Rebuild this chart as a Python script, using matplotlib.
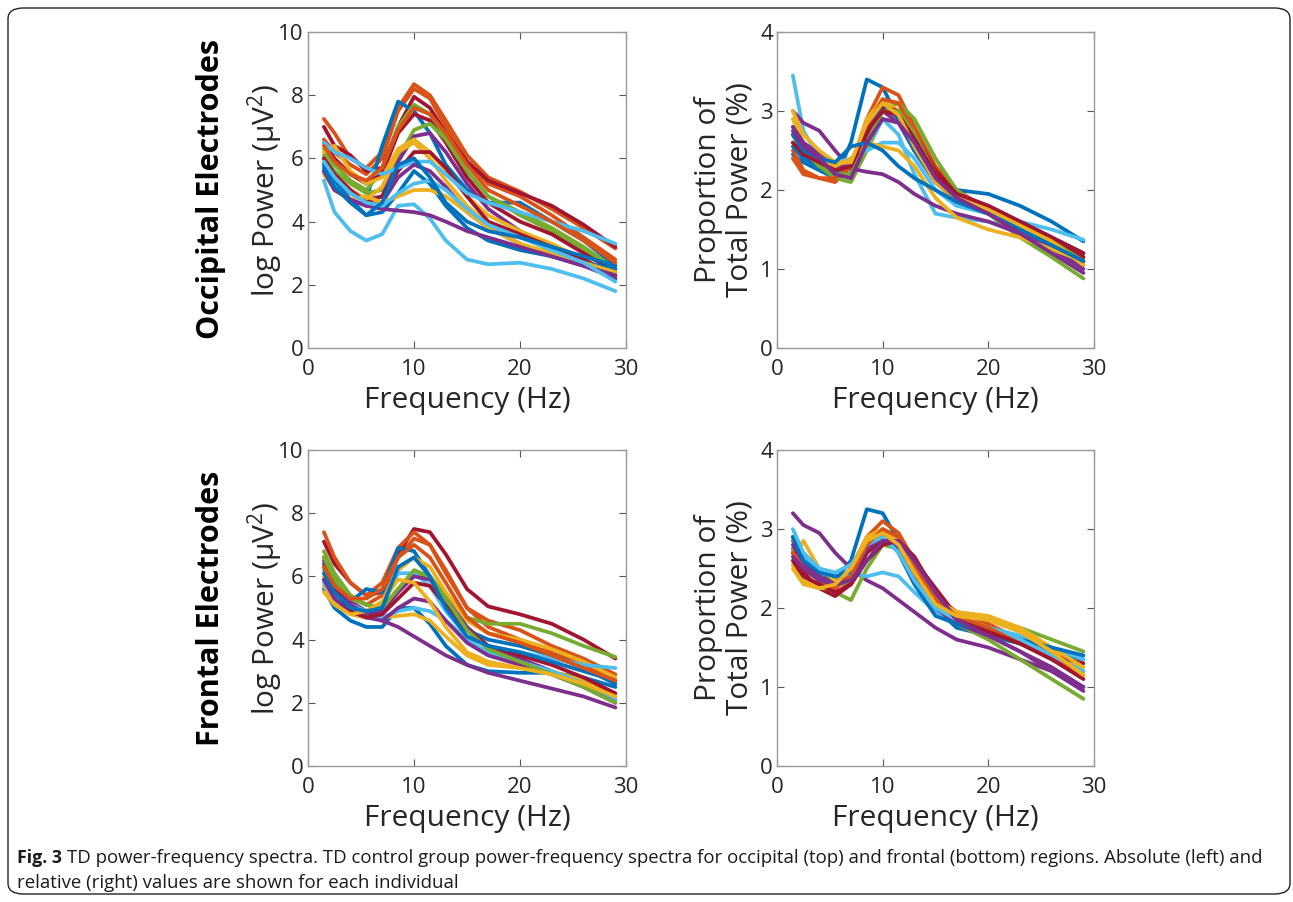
import matplotlib
matplotlib.use("Agg")
import matplotlib.pyplot as plt
from matplotlib.patches import FancyBboxPatch

plt.rcParams['font.family'] = ['Open Sans', 'DejaVu Sans']
plt.rcParams['mathtext.default'] = 'regular'

# MATLAB default colour order
C = ['#0072BD', '#D95319', '#EDB120', '#7E2F8E', '#77AC30', '#4DBEEE', '#A2142F']

freq = [1.5, 2.5, 4, 5.5, 7, 8.5, 10, 11.5, 13, 15, 17, 20, 23, 26, 29]

# occipital, absolute (log power)
occ_abs_col = [1, 1, 6, 0, 4, 6, 4, 3, 2, 2, 6, 5, 3, 0, 2, 5, 3, 5, 0, 1]
occ_abs = [
    [7.25, 6.8, 6.0, 5.7, 6.2, 7.6, 8.35, 8.0, 7.2, 6.1, 5.4, 4.95, 4.4, 3.8, 3.15],
    [6.6, 6.2, 5.8, 5.5, 6.0, 7.5, 8.2, 7.9, 7.0, 5.9, 5.2, 4.8, 4.2, 3.5, 2.8],
    [7.0, 6.4, 6.1, 5.6, 5.7, 7.0, 7.95, 7.6, 6.8, 5.9, 5.3, 4.9, 4.5, 3.9, 3.2],
    [6.0, 5.4, 4.9, 4.7, 6.4, 7.8, 7.5, 6.8, 5.8, 5.0, 4.6, 4.6, 4.0, 3.4, 2.6],
    [6.3, 5.8, 5.3, 5.0, 5.6, 7.0, 7.7, 7.4, 6.6, 5.6, 4.8, 4.2, 3.7, 3.1, 2.5],
    [6.5, 6.0, 5.5, 5.2, 5.5, 6.8, 7.4, 7.2, 6.5, 5.4, 4.6, 4.0, 3.6, 3.0, 2.4],
    [6.1, 5.6, 5.2, 4.9, 5.0, 6.0, 6.9, 7.1, 6.6, 5.6, 4.8, 4.3, 3.8, 3.2, 2.5],
    [5.8, 5.3, 5.0, 4.7, 4.8, 5.9, 6.7, 6.8, 6.2, 5.2, 4.4, 3.7, 3.2, 2.7, 2.2],
    [6.2, 6.4, 5.6, 5.2, 5.4, 6.3, 6.6, 6.2, 5.6, 4.8, 4.2, 3.7, 3.3, 2.8, 2.3],
    [5.9, 5.5, 5.0, 4.7, 5.1, 6.2, 6.5, 6.0, 5.3, 4.5, 3.9, 3.5, 3.1, 2.7, 2.3],
    [6.0, 5.5, 5.0, 4.6, 4.8, 5.6, 6.2, 6.2, 5.7, 4.8, 4.0, 3.6, 3.2, 2.8, 2.3],
    [6.5, 6.2, 6.0, 5.7, 5.5, 5.7, 5.9, 5.9, 5.5, 4.9, 4.6, 4.3, 4.0, 3.7, 3.3],
    [5.6, 5.0, 4.7, 4.5, 4.6, 5.4, 5.8, 5.6, 5.1, 4.3, 3.8, 3.3, 2.9, 2.6, 2.2],
    [5.8, 5.3, 4.7, 4.2, 4.3, 4.9, 5.6, 5.2, 4.5, 3.8, 3.4, 3.1, 2.9, 2.7, 2.5],
    [5.5, 5.0, 4.7, 4.8, 4.6, 4.8, 5.0, 5.0, 4.8, 4.3, 3.8, 3.3, 3.0, 2.7, 2.4],
    [5.3, 4.3, 3.7, 3.4, 3.6, 4.5, 4.55, 4.1, 3.4, 2.8, 2.65, 2.7, 2.5, 2.2, 1.8],
    [5.6, 5.0, 4.7, 4.5, 4.4, 4.35, 4.3, 4.2, 4.0, 3.7, 3.5, 3.2, 2.9, 2.6, 2.3],
    [5.9, 5.4, 4.9, 4.6, 4.5, 4.9, 5.2, 5.3, 5.0, 4.4, 3.9, 3.5, 3.1, 2.7, 2.1],
    [5.7, 5.1, 4.6, 4.2, 4.6, 5.8, 6.0, 5.4, 4.6, 4.0, 3.7, 3.5, 3.2, 2.9, 2.6],
    [6.4, 5.9, 5.5, 5.3, 5.7, 6.9, 7.6, 7.4, 6.8, 5.8, 5.0, 4.5, 4.0, 3.4, 2.7],
]

# occipital, relative (% of total power)
occ_rel_col = [0, 5, 1, 4, 3, 2, 5, 6, 3, 2, 0, 1, 4, 6, 2, 0, 3]
occ_rel = [
    [2.45, 2.35, 2.25, 2.15, 2.6, 3.4, 3.3, 2.9, 2.5, 2.15, 2.0, 1.95, 1.8, 1.6, 1.35],
    [3.45, 2.75, 2.4, 2.3, 2.25, 2.5, 2.9, 2.7, 2.2, 1.7, 1.65, 1.6, 1.5, 1.35, 1.15],
    [2.5, 2.25, 2.15, 2.1, 2.3, 2.9, 3.3, 3.2, 2.8, 2.3, 2.0, 1.75, 1.55, 1.35, 1.15],
    [2.6, 2.45, 2.3, 2.15, 2.1, 2.5, 3.0, 3.1, 2.9, 2.4, 2.0, 1.7, 1.4, 1.15, 0.88],
    [3.0, 2.85, 2.75, 2.5, 2.27, 2.23, 2.2, 2.1, 1.95, 1.8, 1.7, 1.6, 1.45, 1.25, 1.0],
    [2.9, 2.6, 2.4, 2.3, 2.3, 2.9, 3.15, 3.0, 2.6, 2.1, 1.85, 1.7, 1.55, 1.35, 1.1],
    [2.8, 2.55, 2.4, 2.35, 2.4, 2.5, 2.6, 2.6, 2.4, 2.0, 1.8, 1.7, 1.6, 1.5, 1.37],
    [2.7, 2.5, 2.35, 2.2, 2.2, 2.7, 3.05, 3.0, 2.7, 2.25, 1.95, 1.8, 1.6, 1.4, 1.15],
    [2.8, 2.6, 2.45, 2.3, 2.3, 2.8, 3.0, 2.85, 2.5, 2.1, 1.9, 1.7, 1.5, 1.3, 1.05],
    [2.6, 2.5, 2.4, 2.3, 2.4, 2.6, 2.55, 2.5, 2.3, 1.9, 1.65, 1.5, 1.4, 1.25, 1.1],
    [2.55, 2.4, 2.3, 2.2, 2.3, 2.8, 3.1, 2.9, 2.5, 2.1, 1.9, 1.75, 1.6, 1.4, 1.2],
    [2.4, 2.2, 2.15, 2.15, 2.3, 2.8, 3.15, 3.1, 2.7, 2.2, 1.9, 1.75, 1.55, 1.35, 1.1],
    [2.7, 2.5, 2.3, 2.2, 2.2, 2.6, 3.0, 3.0, 2.7, 2.2, 1.9, 1.75, 1.55, 1.35, 1.1],
    [2.6, 2.45, 2.35, 2.25, 2.3, 2.75, 3.0, 2.95, 2.65, 2.2, 1.95, 1.8, 1.6, 1.4, 1.2],
    [3.0, 2.7, 2.5, 2.35, 2.35, 2.85, 3.1, 2.95, 2.55, 2.1, 1.9, 1.75, 1.55, 1.35, 1.05],
    [2.7, 2.5, 2.4, 2.35, 2.55, 2.6, 2.5, 2.3, 2.15, 2.0, 1.85, 1.7, 1.5, 1.3, 1.1],
    [2.75, 2.55, 2.4, 2.2, 2.15, 2.6, 2.9, 2.85, 2.6, 2.15, 1.9, 1.7, 1.45, 1.2, 0.95],
]

# frontal, absolute (log power)
fro_abs_col = [6, 1, 1, 0, 0, 3, 4, 2, 5, 3, 2, 5, 3, 6, 4, 2, 0, 1]
fro_abs = [
    [7.1, 6.4, 5.8, 5.4, 5.5, 6.7, 7.5, 7.4, 6.7, 5.6, 5.05, 4.8, 4.5, 4.0, 3.4],
    [7.4, 6.6, 5.8, 5.4, 5.8, 6.9, 7.4, 7.0, 6.1, 5.0, 4.6, 4.3, 3.8, 3.4, 2.9],
    [6.6, 6.0, 5.4, 5.1, 5.4, 6.6, 7.2, 7.0, 6.2, 5.0, 4.4, 4.0, 3.6, 3.2, 2.7],
    [5.9, 5.4, 5.2, 5.6, 5.5, 6.9, 6.8, 6.0, 5.0, 4.3, 4.0, 3.8, 3.5, 3.1, 2.6],
    [5.6, 5.0, 4.6, 4.4, 4.4, 5.0, 5.0, 4.5, 3.8, 3.2, 3.0, 2.95, 2.95, 2.8, 2.5],
    [6.5, 5.9, 5.2, 4.9, 4.6, 4.4, 4.1, 3.8, 3.5, 3.2, 2.95, 2.7, 2.45, 2.2, 1.85],
    [6.8, 6.1, 5.4, 5.1, 5.0, 5.6, 6.1, 6.0, 5.4, 4.7, 4.5, 4.5, 4.2, 3.8, 3.45],
    [6.0, 5.5, 5.0, 4.9, 5.2, 6.2, 6.6, 6.3, 5.5, 4.6, 4.2, 4.0, 3.7, 3.3, 2.8],
    [6.2, 5.6, 5.1, 4.9, 5.1, 6.1, 6.1, 5.7, 4.9, 4.1, 3.8, 3.6, 3.4, 3.2, 3.1],
    [6.4, 5.7, 5.1, 4.8, 4.9, 5.5, 6.0, 5.9, 5.3, 4.4, 3.8, 3.4, 3.0, 2.6, 2.1],
    [5.7, 5.2, 4.8, 4.7, 4.7, 4.75, 4.8, 4.6, 4.1, 3.5, 3.2, 3.1, 3.0, 2.7, 2.3],
    [5.8, 5.3, 4.9, 4.7, 4.7, 4.9, 5.0, 4.9, 4.6, 4.0, 3.6, 3.3, 3.0, 2.6, 2.1],
    [5.9, 5.3, 4.9, 4.7, 4.6, 5.0, 5.3, 5.2, 4.6, 3.9, 3.5, 3.2, 2.9, 2.5, 2.0],
    [6.3, 5.6, 4.9, 4.7, 4.8, 5.3, 5.8, 5.7, 5.1, 4.3, 3.8, 3.5, 3.2, 2.8, 2.3],
    [6.6, 5.9, 5.3, 5.1, 5.0, 5.6, 6.2, 6.0, 5.3, 4.3, 3.7, 3.3, 2.9, 2.5, 2.0],
    [5.5, 5.1, 4.8, 4.9, 5.2, 5.9, 5.8, 5.2, 4.4, 3.6, 3.3, 3.1, 2.9, 2.6, 2.2],
    [6.1, 5.5, 5.0, 4.9, 5.0, 6.3, 6.6, 6.0, 5.0, 4.1, 3.8, 3.6, 3.3, 3.0, 2.7],
    [6.3, 5.7, 5.3, 5.3, 5.6, 6.6, 7.0, 6.6, 5.8, 4.7, 4.2, 3.9, 3.5, 3.1, 2.7],
]

# frontal, relative (% of total power)
fro_rel_col = [0, 3, 1, 4, 4, 2, 6, 5, 2, 3, 0, 5, 1, 6, 3, 2]
fro_rel = [
    [2.75, 2.55, 2.4, 2.35, 2.6, 3.25, 3.2, 2.85, 2.45, 2.0, 1.75, 1.65, 1.55, 1.45, 1.35],
    [3.2, 3.05, 2.95, 2.7, 2.5, 2.35, 2.25, 2.1, 1.95, 1.75, 1.6, 1.5, 1.35, 1.2, 1.0],
    [2.85, 2.6, 2.4, 2.3, 2.5, 2.9, 3.1, 2.95, 2.6, 2.15, 1.95, 1.8, 1.6, 1.4, 1.2],
    [2.75, 2.5, 2.35, 2.2, 2.1, 2.5, 2.8, 2.75, 2.5, 2.1, 1.9, 1.85, 1.75, 1.6, 1.45],
    [2.9, 2.6, 2.4, 2.3, 2.3, 2.7, 2.9, 2.8, 2.45, 2.05, 1.8, 1.6, 1.35, 1.1, 0.85],
    [2.6, 2.85, 2.5, 2.35, 2.35, 2.75, 2.9, 2.75, 2.4, 2.0, 1.95, 1.85, 1.7, 1.45, 1.2],
    [2.7, 2.45, 2.25, 2.15, 2.3, 2.7, 2.85, 2.8, 2.6, 2.25, 1.9, 1.7, 1.55, 1.4, 1.3],
    [2.9, 2.65, 2.5, 2.4, 2.45, 2.4, 2.45, 2.4, 2.2, 1.95, 1.85, 1.75, 1.65, 1.5, 1.35],
    [2.55, 2.35, 2.25, 2.25, 2.5, 2.9, 3.0, 2.85, 2.5, 2.1, 1.95, 1.9, 1.75, 1.5, 1.25],
    [2.8, 2.55, 2.4, 2.3, 2.4, 2.75, 2.9, 2.75, 2.4, 2.0, 1.8, 1.65, 1.45, 1.25, 1.0],
    [2.9, 2.6, 2.45, 2.4, 2.45, 2.8, 2.95, 2.7, 2.3, 1.9, 1.8, 1.7, 1.6, 1.5, 1.4],
    [3.0, 2.7, 2.5, 2.45, 2.55, 2.8, 2.9, 2.7, 2.35, 2.0, 1.85, 1.75, 1.6, 1.4, 1.2],
    [2.7, 2.5, 2.35, 2.25, 2.4, 2.8, 3.0, 2.9, 2.55, 2.1, 1.9, 1.75, 1.55, 1.35, 1.15],
    [2.6, 2.4, 2.3, 2.2, 2.3, 2.6, 2.8, 2.85, 2.65, 2.2, 1.85, 1.7, 1.55, 1.35, 1.1],
    [2.65, 2.5, 2.35, 2.3, 2.35, 2.6, 2.85, 2.85, 2.6, 2.2, 1.85, 1.65, 1.45, 1.2, 0.95],
    [2.5, 2.3, 2.25, 2.3, 2.5, 2.85, 2.95, 2.8, 2.45, 2.05, 1.9, 1.85, 1.7, 1.45, 1.15],
]

W, H = 1293, 902
fig = plt.figure(figsize=(W / 100, H / 100), dpi=100)

# rounded frame round the whole figure
frame = FancyBboxPatch((8 / W, 8 / H), 1282 / W, 886 / H,
                       boxstyle="round,pad=0,rounding_size=0.012",
                       transform=fig.transFigure, fill=False,
                       edgecolor='#222222', linewidth=1.0)
fig.patches.append(frame)


def px_axes(x0, y0, x1, y1):
    return fig.add_axes([x0 / W, 1 - y1 / H, (x1 - x0) / W, (y1 - y0) / H])


def panel(ax, data, cols, ymax, yticks):
    for vals, ci in zip(data, cols):
        ax.plot(freq, vals, color=C[ci], lw=2.7, solid_capstyle='round',
                solid_joinstyle='round')
    ax.set_xlim(0, 30)
    ax.set_ylim(0, ymax)
    ax.set_xticks([0, 10, 20, 30])
    ax.set_yticks(yticks)
    ax.tick_params(direction='in', top=True, right=True, length=5,
                   width=0.8, color='#555555', labelsize=16,
                   labelcolor='#262626', pad=3)
    ax.tick_params(axis='x', pad=8)
    for s in ax.spines.values():
        s.set_color('#9a9a9a')
        s.set_linewidth(1.0)
    ax.set_xlabel('Frequency (Hz)', fontsize=21.5, color='#262626', labelpad=4)


ax1 = px_axes(308, 32, 626, 348)
panel(ax1, occ_abs, occ_abs_col, 10, [0, 2, 4, 6, 8, 10])
ax1.set_ylabel('log Power (μV$^2$)', fontsize=21.5, color='#262626', labelpad=-5)

ax2 = px_axes(777, 32, 1094, 348)
panel(ax2, occ_rel, occ_rel_col, 4, [0, 1, 2, 3, 4])
ax2.set_ylabel('Proportion of\nTotal Power (%)', fontsize=21.5,
               color='#262626', labelpad=4, linespacing=1.1)

ax3 = px_axes(308, 450, 626, 766)
panel(ax3, fro_abs, fro_abs_col, 10, [0, 2, 4, 6, 8, 10])
ax3.set_ylabel('log Power (μV$^2$)', fontsize=21.5, color='#262626', labelpad=-5)

ax4 = px_axes(777, 450, 1094, 766)
panel(ax4, fro_rel, fro_rel_col, 4, [0, 1, 2, 3, 4])
ax4.set_ylabel('Proportion of\nTotal Power (%)', fontsize=21.5,
               color='#262626', labelpad=4, linespacing=1.1)

fig.text(211 / W, 1 - 189 / H, 'Occipital Electrodes', rotation=90,
         ha='center', va='center', fontsize=22, fontweight='bold', color='black')
fig.text(211 / W, 1 - 608 / H, 'Frontal Electrodes', rotation=90,
         ha='center', va='center', fontsize=22, fontweight='bold', color='black')

cap_font = ['Liberation Sans Narrow', 'Open Sans', 'DejaVu Sans']
fig.text(17 / W, 1 - 858 / H, 'Fig. 3', fontsize=12.8, fontweight='bold',
         ha='left', va='center', family=cap_font, color='#1a1a1a')
fig.text(67 / W, 1 - 858 / H,
         'TD power-frequency spectra. TD control group power-frequency spectra for '
         'occipital (top) and frontal (bottom) regions. Absolute (left) and',
         fontsize=13.45, ha='left', va='center', family=cap_font, color='#1a1a1a')
fig.text(17 / W, 1 - 883 / H, 'relative (right) values are shown for each individual',
         fontsize=13.45, ha='left', va='center', family=cap_font, color='#1a1a1a')

fig.savefig('out.png', dpi=100)
